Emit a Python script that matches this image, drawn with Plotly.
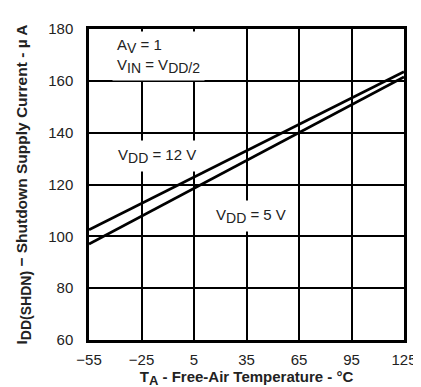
import plotly.graph_objects as go

temp = [-55, 125]
vdd12 = [102.5, 163.5]
vdd5 = [97.0, 161.5]
xticks = [-55, -25, 5, 35, 65, 95, 125]
xticklabels = ["\u221255", "\u221225", "5", "35", "65", "95", "125"]
yticks = [60, 80, 100, 120, 140, 160, 180]


def sub(t, size):
    return "<sub><span style='font-size:%dpx'>%s</span></sub>" % (size, t)


fig = go.Figure()
fig.add_trace(go.Scatter(x=temp, y=vdd12, mode="lines", line=dict(color="black", width=2.8), showlegend=False))
fig.add_trace(go.Scatter(x=temp, y=vdd5, mode="lines", line=dict(color="black", width=2.8), showlegend=False))

font = dict(family="Liberation Sans, Arial, sans-serif", size=15, color="#222")

fig.update_layout(
    width=421, height=387,
    margin=dict(l=81, r=15, t=14, b=47),
    plot_bgcolor="white", paper_bgcolor="white",
    font=font,
    xaxis=dict(range=[-55, 125], tickvals=xticks, ticktext=xticklabels,
               showgrid=True, gridcolor="black", gridwidth=1.8,
               showline=True, linecolor="black", linewidth=2.5, mirror=True,
               zeroline=False, ticks="", ticklabelstandoff=4,
               title=dict(text="<b>T" + sub("A", 13) + " - Free-Air Temperature - \u00b0C</b>", font=dict(size=15), standoff=5)),
    yaxis=dict(range=[60, 180], tickvals=yticks,
               showgrid=True, gridcolor="black", gridwidth=1.8,
               showline=True, linecolor="black", linewidth=2.5, mirror=True,
               zeroline=False, ticks="", ticklabelstandoff=10,
               title=dict(text="<b>I" + sub("DD(SHDN)", 14) + " \u2212 Shutdown Supply Current - \u00b5 A</b>", font=dict(size=15.5), standoff=17)),
)

fig.add_annotation(x=-42, y=169.5, xref="x", yref="y", xanchor="left", yanchor="middle",
                   text="A" + sub("V", 14) + " = 1<br>V" + sub("IN", 14) + " = V" + sub("DD/2", 14), showarrow=False,
                   align="left", bgcolor="white", borderpad=4, font=dict(size=15))
fig.add_annotation(x=-16, y=131, text="V" + sub("DD", 14) + " = 12 V", showarrow=False,
                   bgcolor="white", borderpad=5, font=dict(size=15))
fig.add_annotation(x=37.5, y=108, text="V" + sub("DD", 14) + " = 5 V", showarrow=False,
                   bgcolor="white", borderpad=5, font=dict(size=15))

fig.write_html("out.html")
